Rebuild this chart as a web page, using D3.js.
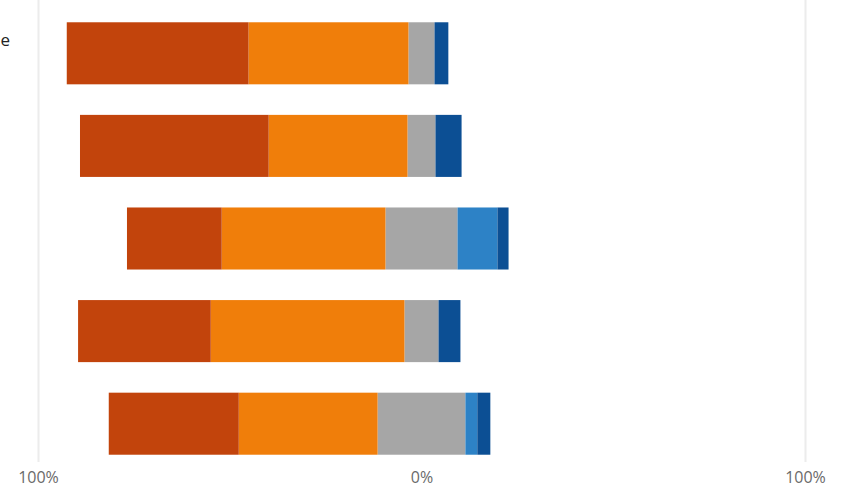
<!DOCTYPE html>
<html>
<head>
<meta charset="utf-8">
<script src="https://cdn.jsdelivr.net/npm/d3@7"></script>
<style>
  body { margin: 0; background: #fff; }
  svg { display: block; font-family: "Open Sans", "DejaVu Sans", sans-serif; }
</style>
</head>
<body>
<div id="chart"></div>
<script>
// rows, top to bottom
var rows = ["A", "B", "C", "D", "E"];
// percentages per row, from strongly negative to strongly positive
var strongNeg = [47.4, 49.2, 24.7, 34.6, 33.9];
var neg       = [41.7, 36.2, 42.7, 50.5, 36.2];
var neutral   = [6.8, 7.3, 18.8, 8.9, 22.9];
var pos       = [0, 0, 10.4, 0, 3.1];
var strongPos = [3.6, 6.8, 2.9, 5.7, 3.4];
var ticks = [-100, 0, 100];
var tickLabels = ["100%", "0%", "100%"];

var colors = {
   strongNeg: "#c2440c",
   neg: "#f07e0a",
   neutral: "#a6a6a6",
   pos: "#2d82c6",
   strongPos: "#0c4f94"
};

var width = 846, height = 490;

var svg = d3.select("#chart").append("svg")
   .attr("width", width)
   .attr("height", height);

var x = d3.scaleLinear()
   .domain([-100, 100])
   .range([38, 805]);

var y = d3.scaleBand()
   .domain(rows)
   .range([7, 470])
   .paddingInner(0.33)
   .paddingOuter(0.165);

// light gridlines at the outer ticks
svg.selectAll(".grid")
   .data([-100, 100])
   .enter().append("line")
   .attr("class", "grid")
   .attr("x1", function(d) { return Math.round(x(d)) + 0.5; })
   .attr("x2", function(d) { return Math.round(x(d)) + 0.5; })
   .attr("y1", 0)
   .attr("y2", 462)
   .attr("stroke", "#ececec")
   .attr("stroke-width", 2);

// build segments: neutral centred on zero
var segs = [];
rows.forEach(function(r, i) {
   var half = neutral[i] / 2;
   var left = -half;
   segs.push({row: r, key: "neutral", x0: -half, x1: half});
   segs.push({row: r, key: "neg", x0: left - neg[i], x1: left});
   left -= neg[i];
   segs.push({row: r, key: "strongNeg", x0: left - strongNeg[i], x1: left});
   var right = half;
   segs.push({row: r, key: "pos", x0: right, x1: right + pos[i]});
   right += pos[i];
   segs.push({row: r, key: "strongPos", x0: right, x1: right + strongPos[i]});
});

svg.selectAll(".seg")
   .data(segs.filter(function(d) { return d.x1 > d.x0; }))
   .enter().append("rect")
   .attr("class", "seg")
   .attr("x", function(d) { return x(d.x0); })
   .attr("width", function(d) { return x(d.x1) - x(d.x0); })
   .attr("y", function(d) { return y(d.row); })
   .attr("height", y.bandwidth())
   .attr("fill", function(d) { return colors[d.key]; });

// bottom axis labels
var axis = d3.axisBottom(x)
   .tickValues(ticks)
   .tickFormat(function(d, i) { return tickLabels[i]; })
   .tickSize(0)
   .tickPadding(0);

var ax = svg.append("g")
   .attr("transform", "translate(0,472)")
   .call(axis);
ax.select(".domain").remove();
ax.selectAll("text")
   .attr("fill", "#6a6a6a")
   .style("font-size", "16px")
   .style("font-family", "\"Open Sans\", sans-serif");

// clipped category label fragment at the left edge
svg.append("text")
   .attr("x", 10)
   .attr("y", 46)
   .attr("text-anchor", "end")
   .attr("fill", "#222")
   .style("font-size", "17px")
   .text("e");
</script>
</body>
</html>
